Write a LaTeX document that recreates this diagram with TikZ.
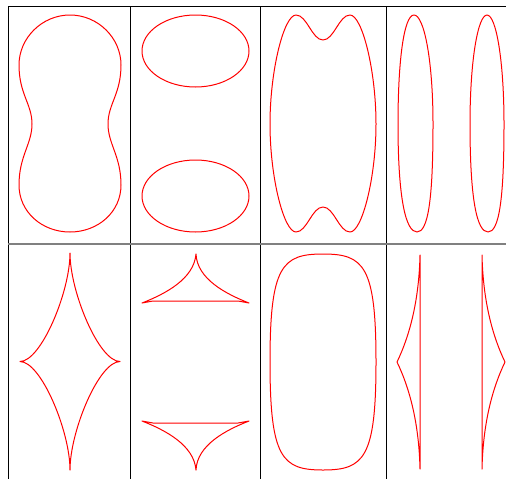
\documentclass[tikz,border=0pt]{standalone}
\usepackage{tikz}
\usetikzlibrary{calc}

\begin{document}
\begin{tikzpicture}[x=0.75pt,y=0.75pt,yscale=-1,xscale=1,
	contour/.style={draw=red, line width=0.75pt, line join=round},
	frame/.style={draw=black, line width=0.75pt},
	midline/.style={draw=black!50, line width=1.5pt}]
	\useasboundingbox (0,0) rectangle (506,479);
	
	%Grid
	\draw[frame] (8,6) -- (506,6);
	\foreach \x in {8,130,260,386}
		\draw[frame] (\x,6) -- (\x,479);
	\draw[midline] (8,243.5) -- (506,243.5);
	
	%Shape: peanut [top left]
	\draw[contour] (70,15) .. controls (98,15) and (121,38) .. (121,65) .. controls (121,94) and (108,104) .. (108,124) .. controls (108,144) and (121,156) .. (121,185) .. controls (121,212) and (98,232) .. (70,232) .. controls (42,232) and (19,212) .. (19,185) .. controls (19,156) and (32,144) .. (32,124) .. controls (32,104) and (19,94) .. (19,65) .. controls (19,38) and (42,15) .. (70,15) -- cycle ;
	
	%Shape: two ovals
	\draw[contour] (195.5,51) ellipse [x radius=53.5, y radius=36];
	\draw[contour] (195.5,196) ellipse [x radius=53.5, y radius=36];
	
	%Shape: dented oval
	\draw[contour] (323,40) .. controls (334,40) and (339,15) .. (350,15) .. controls (362,15) and (376,70) .. (376,124) .. controls (376,178) and (362,232) .. (350,232) .. controls (339,232) and (334,207) .. (323,207) .. controls (312,207) and (307,232) .. (296,232) .. controls (284,232) and (270,178) .. (270,124) .. controls (270,70) and (284,15) .. (296,15) .. controls (307,15) and (312,40) .. (323,40) -- cycle ;
	
	%Shape: two thin ovals
	\draw[contour] (414,15) .. controls (424,15) and (433,60) .. (433,124) .. controls (433,200) and (428,232) .. (417,232) .. controls (406,232) and (398,200) .. (398,124) .. controls (398,60) and (404,15) .. (414,15) -- cycle ;
	\draw[contour] (487,15) .. controls (496,15) and (504,60) .. (504,124) .. controls (504,200) and (499,232) .. (488,232) .. controls (477,232) and (470,200) .. (470,124) .. controls (470,60) and (478,15) .. (487,15) -- cycle ;
	
	%Shape: four cusps
	\draw[contour] (20,361.5) .. controls (41,361.5) and (70,292) .. (70,253) .. controls (70,292) and (99,361.5) .. (120,361.5) .. controls (99,361.5) and (70,431) .. (70,470) .. controls (70,431) and (41,361.5) .. (20,361.5) -- cycle ;
	
	%Shape: two three-cusp pieces
	\draw[contour] (196,254) .. controls (194,279) and (165,294) .. (142,303) -- (153,301) -- (238,301) -- (249,303) .. controls (226,294) and (197,279) .. (196,254) -- cycle ;
	\draw[contour] (142,421) -- (153,423) -- (238,423) -- (249,421) .. controls (226,430) and (197,445) .. (196,470) .. controls (194,445) and (165,430) .. (142,421) -- cycle ;
	
	%Shape: rounded box
	\draw[contour] (323,254) .. controls (364,254) and (376,266) .. (376,362) .. controls (376,458) and (364,470) .. (323,470) .. controls (282,470) and (270,458) .. (270,362) .. controls (270,266) and (282,254) .. (323,254) -- cycle ;
	
	%Shape: two half-cusp pieces
	\draw[contour] (420,255) .. controls (419,300) and (410,335) .. (397,362) .. controls (410,389) and (419,424) .. (420,469) -- cycle ;
	\draw[contour] (482,255) .. controls (483,300) and (492,335) .. (505,362) .. controls (492,389) and (483,424) .. (482,469) -- cycle ;
	
\end{tikzpicture}
\end{document}
